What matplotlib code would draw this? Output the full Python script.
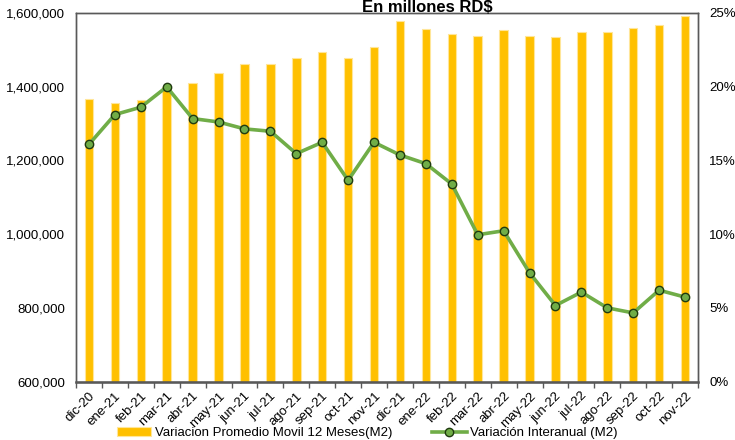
import matplotlib
matplotlib.use("Agg")
import matplotlib.pyplot as plt
from matplotlib.ticker import FuncFormatter, FixedLocator
import numpy as np

categories = ["dic-20", "ene-21", "feb-21", "mar-21", "abr-21", "may-21", "jun-21", "jul-21",
              "ago-21", "sep-21", "oct-21", "nov-21", "dic-21", "ene-22", "feb-22", "mar-22",
              "abr-22", "may-22", "jun-22", "jul-22", "ago-22", "sep-22", "oct-22", "nov-22"]
promedio_movil = [1368000, 1357000, 1363600, 1398000, 1410600, 1436000, 1460600, 1460600,
                  1477000, 1494000, 1477000, 1506800, 1577400, 1557400, 1543800, 1538300,
                  1554600, 1538300, 1535600, 1547500, 1549200, 1560100, 1567400, 1591800]
variacion_interanual = [16.09, 18.11, 18.61, 19.99, 17.84, 17.61, 17.14, 16.98,
                        15.46, 16.23, 13.65, 16.23, 15.37, 14.78, 13.40, 9.96,
                        10.23, 7.38, 5.16, 6.07, 5.00, 4.66, 6.20, 5.73]

plt.rcParams['font.family'] = ['Liberation Sans', 'DejaVu Sans']

fig = plt.figure(figsize=(7.35, 4.4), dpi=100)
ax = fig.add_axes([76/735, 1 - 381.6/440, (698 - 76)/735, (381.6 - 13)/440])
ax2 = ax.twinx()

x = np.arange(len(categories))
bars = ax.bar(x, promedio_movil, width=0.33, color="#FFC000", edgecolor="#FFE699",
              linewidth=0.8, label="Variacion Promedio Movil 12 Meses(M2)", zorder=2)
line, = ax2.plot(x, variacion_interanual, color="#70AD47", linewidth=2.6, marker="o",
                 markersize=6, markerfacecolor="#70AD47", markeredgecolor="#1F3A10",
                 markeredgewidth=1.0, label="Variación Interanual (M2)", zorder=3)

ax.set_xlim(-0.5, len(categories) - 0.5)
ax.set_ylim(600000, 1600000)
ax.set_yticks(np.arange(600000, 1600001, 200000))
ax.yaxis.set_major_formatter(FuncFormatter(lambda v, p: f"{int(v):,}"))
ax2.set_ylim(0, 25)
ax2.set_yticks(np.arange(0, 26, 5))
ax2.yaxis.set_major_formatter(FuncFormatter(lambda v, p: f"{int(v)}%"))

ax.set_xticks(x)
ax.set_xticklabels(categories, rotation=45, ha="right", rotation_mode="anchor", fontsize=9.5)
ax.tick_params(axis="x", length=0, pad=6)
ax.xaxis.set_minor_locator(FixedLocator(np.arange(-0.5, len(categories), 1.0)))
ax.tick_params(axis="x", which="minor", length=4, width=1, color="#595959", direction="out")
ax.tick_params(axis="y", length=0, labelsize=9.5, pad=8)
ax2.tick_params(axis="y", length=0, labelsize=9.5, pad=8)

for a in (ax, ax2):
    for s in a.spines.values():
        s.set_color("#595959")
        s.set_linewidth(1.0)
ax.spines["bottom"].set_linewidth(1.8)

fig.text(427/735, 1.0, "En millones RD$", ha="center", va="top",
         fontsize=12, fontweight="bold")

fig.legend(handles=[bars, line], loc="lower center", bbox_to_anchor=(0.5, -0.01),
           ncol=2, frameon=False, fontsize=9.5, handlelength=2.6, columnspacing=3.0,
           handletextpad=0.3, borderaxespad=0.0)

fig.savefig("out.png", dpi=100)
